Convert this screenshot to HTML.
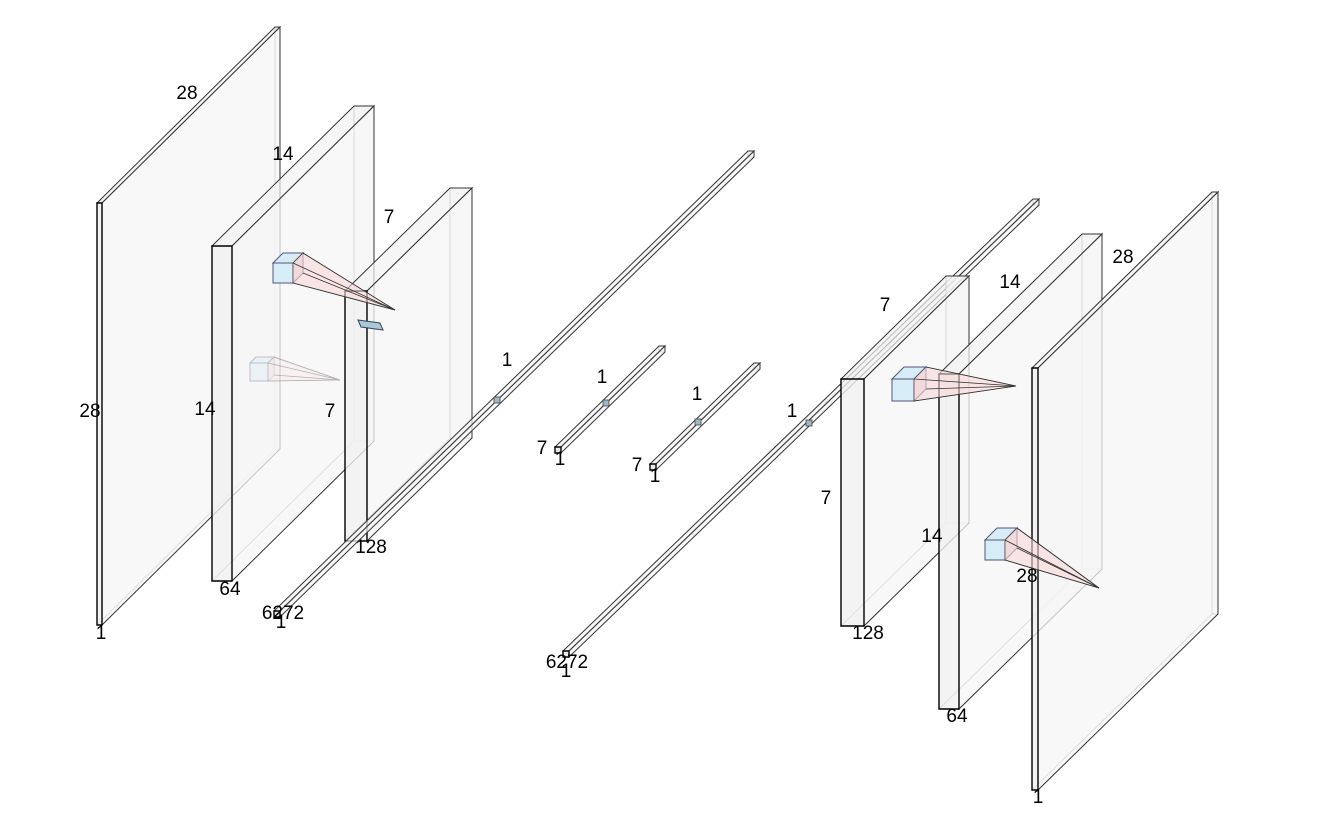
<!DOCTYPE html>
<html><head><meta charset="utf-8">
<style>
html,body{margin:0;padding:0;background:#fff;}
svg{display:block;}
text{font-family:"Liberation Sans",Helvetica,sans-serif;font-size:19px;fill:#000;}
</style></head>
<body>
<svg id="diagram" width="1318" height="813" viewBox="0 0 1318 813" xmlns="http://www.w3.org/2000/svg"></svg>
<script>
// Layer names and sizes (diagram content)
const layerNames = ['input','conv1','conv2','flatten-enc','latent-mu','latent-sigma','dense-dec','deconv1','deconv2','output'];
const layerSizes = [['28','28','1'],['14','14','64'],['7','7','128'],['6272','1'],['7','1'],['7','1'],['6272','1'],['7','7','128'],['14','14','64'],['28','28','1']];
// geometry: front face x1,x2,y1,y2 and depth vector dx,dy
const geom = [
 [97,102,203,625,178,-176],
 [212,232,246,581,142,-140],
 [345,367,291,541,105,-103],
 [274,280,611,617,474,-460],
 [555,561,447,453,104,-101],
 [650,656,464,470,104,-101],
 [563,569,651,657,470,-452],
 [841,864,379,626,105,-103],
 [939,959,374,709,143,-140],
 [1032,1038,368,790,180,-176]
];
const labelPos = [
 [[187,99],[90,417],[101,639]],
 [[283,160],[205,415],[230,595]],
 [[389,223],[330,417],[371,553]],
 [[283,619],[281,628]],
 [[542,454],[560,465]],
 [[637,471],[655,482]],
 [[567,668],[566,677]],
 [[885,311],[826,504],[868,639]],
 [[1010,288],[932,542],[957,722]],
 [[1123,263],[1027,582],[1038,803]]
];
const extraLabels=[[507,366],[602,383],[697,400],[792,417]];

const NS='http://www.w3.org/2000/svg';
const svg=document.getElementById('diagram');
function mk(tag,attrs,parent){const e=document.createElementNS(NS,tag);for(const k in attrs)e.setAttribute(k,attrs[k]);(parent||svg).appendChild(e);return e;}
function pts(a){return a.map(p=>p.join(',')).join(' ');}

layerNames.forEach((name,i)=>{
  const [x1,x2,y1,y2,dx,dy]=geom[i];
  const g=mk('g',{});
  
  
  const F=[[x1,y1],[x2,y1],[x2,y2],[x1,y2]];
  const B=F.map(p=>[p[0]+dx,p[1]+dy]);
  mk('polygon',{points:pts(B),fill:'#f6f6f6','fill-opacity':0.6,stroke:'#888','stroke-width':1},g);
  mk('line',{x1:F[3][0],y1:F[3][1],x2:B[3][0],y2:B[3][1],stroke:'#999','stroke-width':1},g);
  mk('polygon',{points:pts([F[0],F[1],B[1],B[0]]),fill:'#f2f2f2','fill-opacity':0.7,stroke:'#333','stroke-width':1},g);
  mk('polygon',{points:pts([F[1],F[2],B[2],B[1]]),fill:'#f6f6f6','fill-opacity':0.75,stroke:'#333','stroke-width':1},g);
  mk('polygon',{points:pts(F),fill:'#f0f0f0','fill-opacity':0.8,stroke:'#000','stroke-width':1.4},g);
  layerSizes[i].forEach((s,j)=>{
    const t=mk('text',{x:labelPos[i][j][0],y:labelPos[i][j][1],'text-anchor':'middle'},g);
    t.textContent=s;
    
    
  });
});

extraLabels.forEach(p=>{
  const t=mk('text',{x:p[0],y:p[1],'text-anchor':'middle'});
  t.textContent='1';
  
  
});

[[497,400],[606,403],[698,422],[809,423]].forEach(p=>{
  const c=mk('rect',{x:p[0]-3,y:p[1]-3,width:6,height:6,fill:'#9fb8c8',stroke:'#444','stroke-width':0.8});
  
  
});

// kernel cubes: x, y, size, depth, apex x, apex y, opacity
const kernels=[[273,263,20,10,395,310,1],[250,363,18,6,340,380,0.35],[892,379,22,12,1016,386,1],[985,540,20,12,1099,588,1]];
kernels.forEach(k=>{
  const [x,y,s,d,ax,ay,op]=k;
  const g=mk('g',{opacity:op});
  
  
  mk('polygon',{points:pts([[x,y],[x+s,y],[x+s,y+s],[x,y+s]]),fill:'#d6ecf7',stroke:'#557','stroke-width':1},g);
  mk('polygon',{points:pts([[x,y],[x+d,y-d],[x+s+d,y-d],[x+s,y]]),fill:'#d6ecf7',stroke:'#557','stroke-width':1},g);
  mk('polygon',{points:pts([[x+s,y],[x+s+d,y-d],[x+s+d,y+s-d],[x+s,y+s]]),fill:'#e8dde3',stroke:'#557','stroke-width':1},g);
  mk('polygon',{points:pts([[x+s,y],[x+s+d,y-d],[ax,ay],[x+s,y+s]]),fill:'#f9d7d7','fill-opacity':0.6,stroke:'#555','stroke-width':0.8},g);
  [[x+s,y],[x+s+d,y-d],[x+s+d,y+s-d],[x+s,y+s]].forEach(p=>mk('line',{x1:p[0],y1:p[1],x2:ax,y2:ay,stroke:'#333','stroke-width':0.8},g));
});
const sb=mk('polygon',{points:'358,320 380,323 383,330 361,327',fill:'#a9c9da',stroke:'#345','stroke-width':1});


</script>
</body></html>
